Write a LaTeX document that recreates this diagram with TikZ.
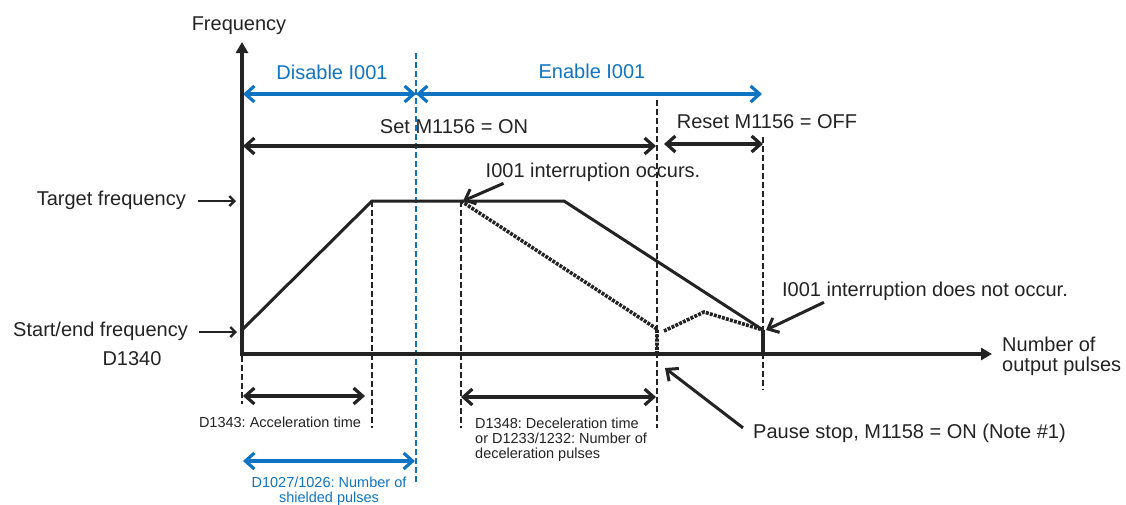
\documentclass[tikz,border=0pt]{standalone}
\usepackage{fontspec}
\setmainfont{Liberation Sans}
\usetikzlibrary{arrows.meta}
\definecolor{ink}{RGB}{35,35,35}
\definecolor{plcblue}{RGB}{16,116,196}

\begin{document}
\frenchspacing
\begin{tikzpicture}[
  x=1pt, y=-1pt,
  >={Straight Barb[length=9pt,width=16pt]},
  lbl/.style={inner sep=0pt, text=ink, font=\fontsize{20}{20}\selectfont},
  note/.style={inner sep=0pt, text=ink, font=\fontsize{14.5}{15}\selectfont, align=left},
  axis/.style={draw=ink, line width=3.4pt, {Triangle[length=11pt,width=12pt]}-{Triangle[length=11pt,width=12pt]}},
  span/.style={draw=ink, line width=3.2pt, <->},
  bspan/.style={span, draw=plcblue},
  guide/.style={draw=ink, line width=2.2pt, dash pattern=on 6pt off 3pt},
  bguide/.style={guide, draw=plcblue, line width=2pt},
  profile/.style={draw=ink, line width=3pt},
  paused/.style={draw=ink, line width=3.6pt, dash pattern=on 3pt off 1.2pt},
  callout/.style={draw=ink, line width=3pt, ->},
  tick/.style={draw=ink, line width=2.4pt, -{Straight Barb[length=5pt,width=10pt]}}
]
  \useasboundingbox (0,0) rectangle (1126,504);

  % labels
  \node[lbl, anchor=base] (freq) at (239,30) {Frequency};
  \node[lbl, anchor=base, text=plcblue] (dis) at (332,79) {Disable I001};
  \node[lbl, anchor=base, text=plcblue] (ena) at (592,78) {Enable I001};
  \node[lbl, anchor=base] (set) at (454,133) {Set M1156 = ON};
  \node[lbl, anchor=base] (reset) at (767,128) {Reset M1156 = OFF};
  \node[lbl, anchor=base] (occ) at (593,177) {I001 interruption occurs.};
  \node[lbl, anchor=base] (nocc) at (925,296) {I001 interruption does not occur.};
  \node[lbl, anchor=base east] (tf) at (186,205) {Target frequency};
  \node[lbl, anchor=base east] (sf) at (188,336) {Start/end frequency};
  \node[lbl, anchor=base] (d1340) at (132,365) {D1340};
  \node[lbl, anchor=north west, align=left] (npulse) at (1002,337) {Number of\\output pulses};
  \node[lbl, anchor=base west] (pause) at (753,438) {Pause stop, M1158 = ON (Note \#1)};
  \node[note, anchor=base] (acc) at (280,427) {D1343: Acceleration time};
  \node[note, anchor=north west] (dec) at (475,417.5)
    {D1348: Deceleration time\\or D1233/1232: Number of\\deceleration pulses};
  \node[note, anchor=north, align=center, text=plcblue] (shield) at (329,476.5)
    {D1027/1026: Number of\\shielded pulses};

  % profile points
  \coordinate (O) at (242,354);
  \coordinate (ytop) at (242,42);
  \coordinate (xend) at (992,354);
  \coordinate (p0) at (242,330);
  \coordinate (p1) at (372,201);
  \coordinate (p2) at (564,201);
  \coordinate (p3) at (763,330);
  \coordinate (p4) at (763,354);
  \coordinate (q0) at (461,201);
  \coordinate (q1) at (657,329);
  \coordinate (q2) at (657,354);
  \coordinate (q3) at (664,331);
  \coordinate (q4) at (704,312);

  % guides
  \foreach \gx/\gtop/\gbot in {242/356/404, 372/201/428, 461/201/428, 657/100/428, 763/137/390}
    \draw[guide] (\gx,\gtop) -- (\gx,\gbot);
  \draw[bguide] (416,53) -- (416,483);

  % spans
  \draw[bspan] (243,94) -- (416,94);
  \draw[bspan] (416,94) -- (762,94);
  \draw[span] (243,146) -- (656,146);
  \draw[span] (664,144) -- (763,144);
  \draw[span] (243,396) -- (365,396);
  \draw[span] (461,397) -- (656,397);
  \draw[bspan] (243,461) -- (415,461);

  % axes and curves
  \draw[axis] (ytop) -- (O) -- (xend);
  \draw[profile] (p0) -- (p1) -- (p2) -- (p3);
  \draw[profile, line width=3.6pt] (p3) -- (p4);
  \draw[paused] (q0) -- (q1) -- (q2);
  \draw[paused] (q3) -- (q4) -- (p3);

  % callouts
  \draw[tick] ([xshift=12pt,yshift=4pt]tf.base east) -- ++(38,0);
  \draw[tick] ([xshift=11pt,yshift=4pt]sf.base east) -- ++(38,0);
  \draw[callout] ([xshift=18pt,yshift=-2pt]occ.south west) -- ([xshift=2pt]q0);
  \draw[callout] ([xshift=42pt,yshift=-2pt]nocc.south west) -- ([xshift=3pt]p3);
  \draw[callout] ([xshift=-10pt,yshift=5pt]pause.west) -- ([xshift=8pt,yshift=-14pt]q2);
\end{tikzpicture}
\end{document}
